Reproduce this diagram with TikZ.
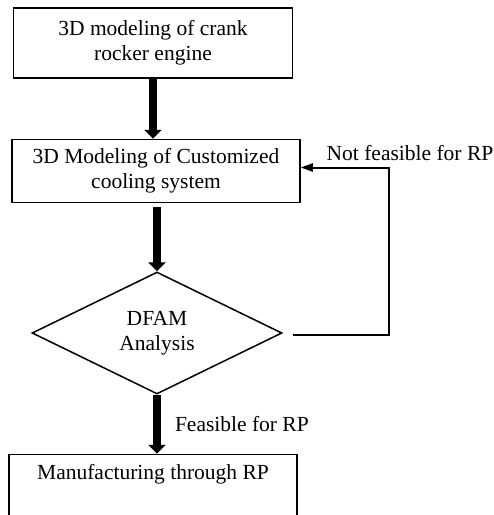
\documentclass[tikz,border=0pt]{standalone}
\usepackage{fontspec}
\setmainfont{Liberation Serif}
\usetikzlibrary{positioning,shapes.geometric,arrows.meta}

\begin{document}
\begin{tikzpicture}[
  x = 1pt,
  y = -1pt,
  every node/.style = {
    font = \fontsize{21.5}{25}\selectfont,
  },
  stage/.style = {
    draw,
    rectangle,
    line width = 1.5pt,
    align = center,
    inner sep = 0pt,
  },
  check/.style = {
    draw,
    diamond,
    line width = 1.5pt,
    align = center,
    inner sep = 0pt,
    minimum width = 250pt,
    minimum height = 122pt,
  },
  lbl/.style = {
    inner sep = 2pt,
  },
  flow/.style = {
    line width = 8pt,
    -{Triangle[width=17pt,length=9pt]},
  },
  back/.style = {
    line width = 2pt,
    -{Triangle[width=8pt,length=12pt]},
  },
]

  \useasboundingbox (0,0) rectangle (494,515);
  \clip (0,0) rectangle (494,515);

  \node[stage,minimum width=279pt,minimum height=70pt] (model) at (153,43)
    {3D modeling of crank\\rocker engine};
  \node[stage,minimum width=288pt,minimum height=63pt] (cool)
    [below=60pt of model,xshift=3pt] {3D Modeling of Customized\\cooling system};
  \node[check] (dfam) [below=68pt of cool,xshift=1pt] {DFAM\\Analysis};
  \node[stage,minimum width=288pt,text height=15pt,text depth=60pt,inner ysep=10pt] (make)
    [below=59pt of dfam,xshift=-4pt] {Manufacturing through RP};

  \coordinate (turn) at ([xshift=106pt,yshift=-2pt]dfam.east);

  \draw[flow] (model.south) -- (model.south |- cool.north);
  \draw[flow,shorten <=4pt] (cool.south -| dfam.north) -- (dfam.north);
  \draw[flow] (dfam.south) -- (dfam.south |- make.north)
    node[lbl,midway,right=12pt] {Feasible for RP};

  \draw[back] ([xshift=10pt,yshift=-2pt]dfam.east) -- (turn) |- ([yshift=3.5pt]cool.east);
  \node[lbl,anchor=base] (nofit) at (410,160) {Not feasible for RP};

\end{tikzpicture}
\end{document}
